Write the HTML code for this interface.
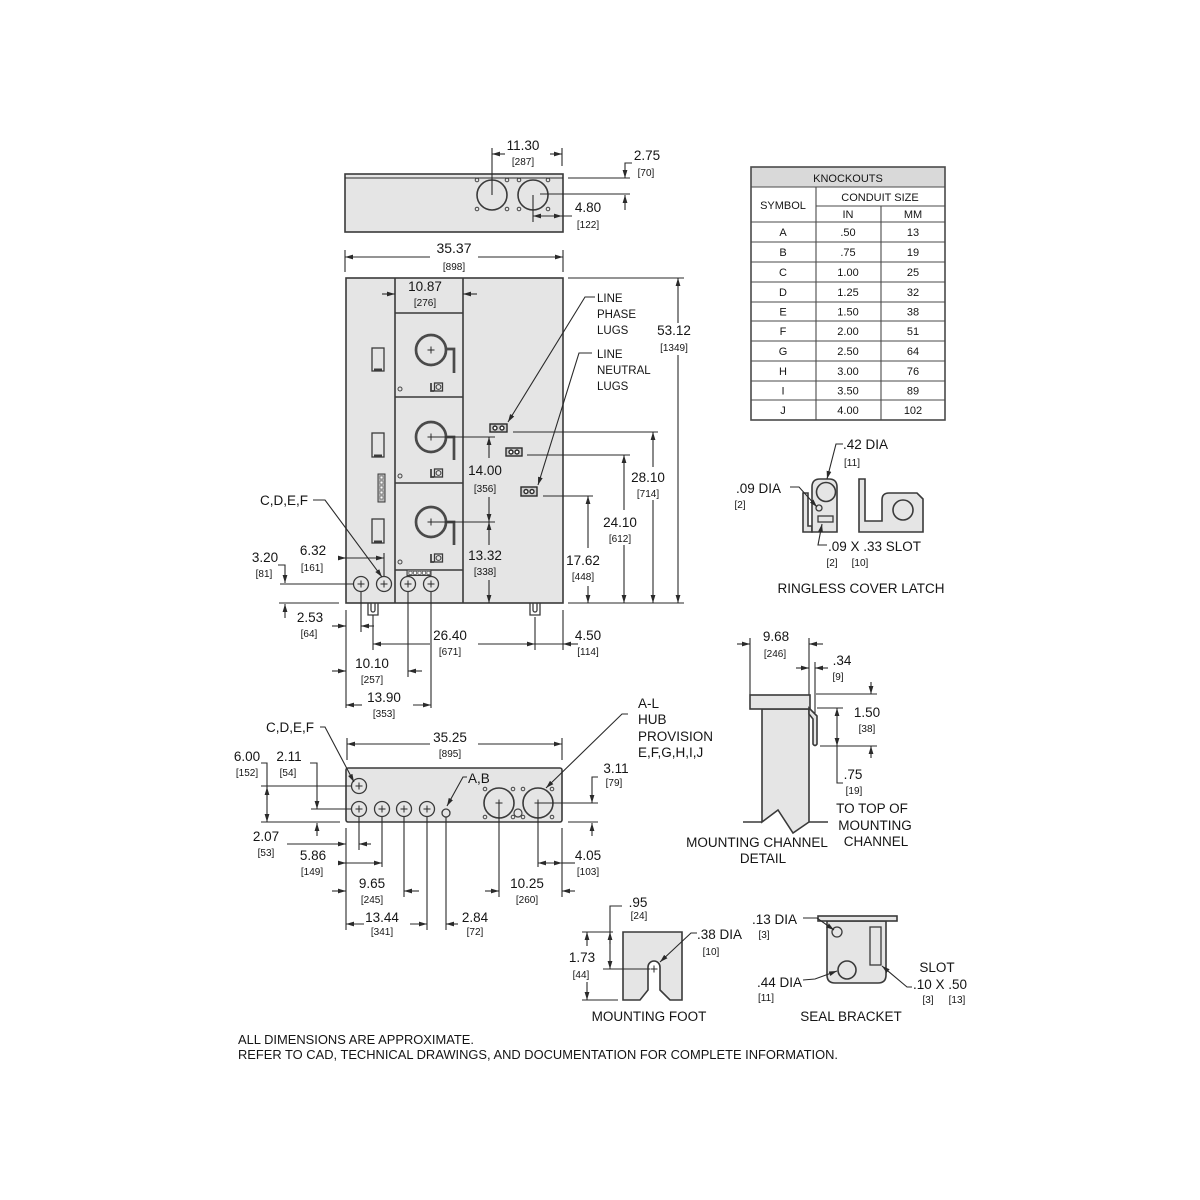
<!DOCTYPE html>
<html><head><meta charset="utf-8"><style>
html,body{margin:0;padding:0;background:#fff}
svg{display:block}
text{font-family:"Liberation Sans",Arial,sans-serif;fill:#151515}
.t{font-size:13.5px;text-anchor:middle}
.b{font-size:10px;text-anchor:middle}
.l{font-size:13.5px}
.s{font-size:11.5px}
.k{font-size:11px;text-anchor:middle}
.d{stroke:#2a2a2a;stroke-width:1.1;fill:none}
.o{stroke:#3a3a3a;stroke-width:1.6;fill:#e5e5e5}
.n{stroke:#3a3a3a;stroke-width:1.6;fill:none}
.g{stroke:#3a3a3a;stroke-width:1.3;fill:none}
</style></head><body>
<svg width="1200" height="1200" viewBox="0 0 1200 1200" xmlns="http://www.w3.org/2000/svg">
<defs>
<marker id="ar" markerUnits="userSpaceOnUse" markerWidth="8" markerHeight="6" refX="8" refY="3" orient="auto-start-reverse" viewBox="0 0 8 6"><path d="M0,0.6 L8,3 L0,5.4 z" fill="#2a2a2a"/></marker>
</defs>
<rect width="1200" height="1200" fill="#fff"/>

<!-- ===== TOP VIEW ===== -->
<rect class="o" x="345" y="174" width="218" height="58"/>
<line class="d" x1="345" y1="178" x2="563" y2="178"/>
<circle class="n" cx="492" cy="195" r="15"/>
<circle class="n" cx="533" cy="195" r="15"/>
<g fill="none" stroke="#444" stroke-width="1">
<circle cx="477" cy="180" r="1.8"/><circle cx="507" cy="180" r="1.8"/><circle cx="519" cy="180" r="1.8"/><circle cx="548" cy="180" r="1.8"/>
<circle cx="477" cy="209" r="1.8"/><circle cx="507" cy="209" r="1.8"/><circle cx="519" cy="209" r="1.8"/><circle cx="548" cy="209" r="1.8"/>
</g>
<path class="d" d="M492 148V195M562 148V166"/>
<line class="d" x1="505" y1="154" x2="492" y2="154" marker-end="url(#ar)"/>
<line class="d" x1="550" y1="154" x2="562" y2="154" marker-end="url(#ar)"/>
<text class="t" x="523" y="150">11.30</text>
<text class="b" x="523" y="165">[287]</text>
<path class="d" d="M568 178H630M540 194H630"/>
<polyline class="d" points="632,163 625,163 625,178" marker-end="url(#ar)"/>
<line class="d" x1="625" y1="210" x2="625" y2="195" marker-end="url(#ar)"/>
<text class="t" x="647" y="160">2.75</text>
<text class="b" x="646" y="176">[70]</text>
<path class="d" d="M533 195V222M562 216H572"/>
<line class="d" x1="533" y1="216" x2="562" y2="216" marker-start="url(#ar)" marker-end="url(#ar)"/>
<text class="t" x="588" y="212">4.80</text>
<text class="b" x="588" y="228">[122]</text>

<!-- 35.37 -->
<path class="d" d="M345 250V272M563 250V272"/>
<line class="d" x1="430" y1="257" x2="345" y2="257" marker-end="url(#ar)"/>
<line class="d" x1="478" y1="257" x2="563" y2="257" marker-end="url(#ar)"/>
<text class="t" x="454" y="253" style="font-size:14px">35.37</text>
<text class="b" x="454" y="270">[898]</text>

<!-- ===== FRONT VIEW ===== -->
<rect class="o" x="346" y="278" width="217" height="325"/>
<path class="n" d="M395 278V603M463 278V603M395 313H463M395 397H463M395 483H463M395 570H463"/>
<!-- 10.87 -->
<line class="d" x1="382" y1="294" x2="395" y2="294" marker-end="url(#ar)"/>
<line class="d" x1="477" y1="294" x2="463" y2="294" marker-end="url(#ar)"/>
<text class="t" x="425" y="291">10.87</text>
<text class="b" x="425" y="306">[276]</text>
<!-- modules -->
<g stroke="#4a4a4a" stroke-width="2.7" fill="none">
<circle cx="431" cy="350" r="15"/><circle cx="431" cy="437" r="15"/><circle cx="431" cy="522" r="15"/>
<path d="M445 349H454V373M445 437H454V460M445 522H454V545"/>
</g>
<g fill="none" stroke="#444" stroke-width="1">
<circle cx="400" cy="389" r="2"/><circle cx="400" cy="476" r="2"/><circle cx="400" cy="562" r="2"/>
</g>
<g fill="none" stroke="#3a3a3a">
<path d="M431 383v8h3M431 469v8h3M431 554v8h3" stroke-width="1.7"/>
<rect x="434.5" y="383" width="8" height="8" stroke-width="1.3"/><circle cx="438.5" cy="387" r="2.4"/>
<rect x="434.5" y="469" width="8" height="8" stroke-width="1.3"/><circle cx="438.5" cy="473" r="2.4"/>
<rect x="434.5" y="554" width="8" height="8" stroke-width="1.3"/><circle cx="438.5" cy="558" r="2.4"/>
</g>
<!-- left column rects -->
<g class="g">
<rect x="372" y="348" width="12" height="23"/><rect x="372" y="433" width="12" height="24"/><rect x="372" y="519" width="12" height="24"/>
</g>
<path d="M374 369.5h8M374 455.5h8M374 541.5h8" stroke="#3a3a3a" stroke-width="2"/>
<rect x="378" y="474" width="7" height="28" fill="#bbb" stroke="#3a3a3a" stroke-width="1"/>
<g fill="#fff" stroke="#444" stroke-width="0.6">
<rect x="380" y="476" width="3" height="3"/><rect x="380" y="481" width="3" height="3"/><rect x="380" y="486" width="3" height="3"/><rect x="380" y="491" width="3" height="3"/><rect x="380" y="496" width="3" height="3"/>
</g>
<rect x="407" y="570" width="24" height="5.5" fill="#bbb" stroke="#3a3a3a" stroke-width="1"/>
<g fill="#fff" stroke="#444" stroke-width="0.6">
<rect x="409" y="571.3" width="3" height="3"/><rect x="413.5" y="571.3" width="3" height="3"/><rect x="418" y="571.3" width="3" height="3"/><rect x="422.5" y="571.3" width="3" height="3"/><rect x="427" y="571.3" width="3" height="3"/>
</g>
<!-- knockouts front -->
<g class="g">
<circle cx="361" cy="584" r="7.5"/><circle cx="384" cy="584" r="7.5"/><circle cx="408" cy="584" r="7.5"/><circle cx="431" cy="584" r="7.5"/>
</g>
<!-- feet -->
<g class="g" stroke-width="1.1">
<path d="M368 603V615H378V603M371 603V610A2 2 0 0 0 375 610V603"/>
<path d="M530 603V615H540V603M533 603V610A2 2 0 0 0 537 610V603"/>
</g>
<!-- lugs -->
<g stroke="#2a2a2a" stroke-width="1.4">
<rect x="490" y="424" width="17" height="8" fill="#cfcfcf"/><circle cx="495" cy="428" r="2" fill="#fff"/><circle cx="502" cy="428" r="2" fill="#fff"/>
<rect x="506" y="448" width="16" height="8" fill="#cfcfcf"/><circle cx="511" cy="452" r="2" fill="#fff"/><circle cx="517" cy="452" r="2" fill="#fff"/>
<rect x="521" y="487" width="16" height="9" fill="#cfcfcf"/><circle cx="526" cy="491.5" r="2" fill="#fff"/><circle cx="532" cy="491.5" r="2" fill="#fff"/>
</g>
<polyline class="d" points="595,297 585,297 508,422" marker-end="url(#ar)"/>
<polyline class="d" points="592,353 579,353 538,485" marker-end="url(#ar)"/>
<text class="s" x="597" y="302">LINE</text>
<text class="s" x="597" y="318">PHASE</text>
<text class="s" x="597" y="334">LUGS</text>
<text class="s" x="597" y="358">LINE</text>
<text class="s" x="597" y="374">NEUTRAL</text>
<text class="s" x="597" y="390">LUGS</text>

<!-- right dims -->
<path class="d" d="M568 278H684M568 603H684M513 432H658M527 455H630M543 496H593"/>
<line class="d" x1="678" y1="323" x2="678" y2="278" marker-end="url(#ar)"/>
<line class="d" x1="678" y1="355" x2="678" y2="603" marker-end="url(#ar)"/>
<text class="t" x="674" y="335">53.12</text>
<text class="b" x="674" y="351">[1349]</text>
<line class="d" x1="653" y1="467" x2="653" y2="432" marker-end="url(#ar)"/>
<line class="d" x1="653" y1="500" x2="653" y2="603" marker-end="url(#ar)"/>
<text class="t" x="648" y="482">28.10</text>
<text class="b" x="648" y="497">[714]</text>
<line class="d" x1="624" y1="510" x2="624" y2="455" marker-end="url(#ar)"/>
<line class="d" x1="624" y1="545" x2="624" y2="603" marker-end="url(#ar)"/>
<text class="t" x="620" y="527">24.10</text>
<text class="b" x="620" y="542">[612]</text>
<line class="d" x1="588" y1="548" x2="588" y2="496" marker-end="url(#ar)"/>
<line class="d" x1="588" y1="586" x2="588" y2="603" marker-end="url(#ar)"/>
<text class="t" x="583" y="565">17.62</text>
<text class="b" x="583" y="580">[448]</text>

<!-- 14.00 / 13.32 -->
<path class="d" d="M431 437H495M431 522H495"/>
<line class="d" x1="489" y1="458" x2="489" y2="437" marker-end="url(#ar)"/>
<line class="d" x1="489" y1="497" x2="489" y2="522" marker-end="url(#ar)"/>
<line class="d" x1="489" y1="545" x2="489" y2="522" marker-end="url(#ar)"/>
<line class="d" x1="489" y1="580" x2="489" y2="603" marker-end="url(#ar)"/>
<text class="t" x="485" y="475">14.00</text>
<text class="b" x="485" y="492">[356]</text>
<text class="t" x="485" y="560">13.32</text>
<text class="b" x="485" y="575">[338]</text>

<!-- left dims front -->
<text class="t" x="284" y="505">C,D,E,F</text>
<polyline class="d" points="313,500 325,500 382,577" marker-end="url(#ar)"/>
<path class="d" d="M384 553V576M280 584H354M279 603H339"/>
<line class="d" x1="338" y1="558" x2="346" y2="558" marker-end="url(#ar)"/>
<line class="d" x1="346" y1="558" x2="384" y2="558" marker-end="url(#ar)"/>
<text class="t" x="313" y="555">6.32</text>
<text class="b" x="312" y="571">[161]</text>
<polyline class="d" points="278,565 285,565 285,583" marker-end="url(#ar)"/>
<line class="d" x1="285" y1="618" x2="285" y2="604" marker-end="url(#ar)"/>
<text class="t" x="265" y="562">3.20</text>
<text class="b" x="264" y="577">[81]</text>
<path class="d" d="M346 610V708M361 592V632M373 615V650M408 592V677M431 592V708M535 617V650M563 610V650M535 644H563"/>
<line class="d" x1="332" y1="626" x2="346" y2="626" marker-end="url(#ar)"/>
<line class="d" x1="374" y1="626" x2="361" y2="626" marker-end="url(#ar)"/>
<text class="t" x="310" y="622">2.53</text>
<text class="b" x="309" y="637">[64]</text>
<line class="d" x1="430" y1="644" x2="373" y2="644" marker-end="url(#ar)"/>
<line class="d" x1="478" y1="644" x2="535" y2="644" marker-end="url(#ar)"/>
<text class="t" x="450" y="640">26.40</text>
<text class="b" x="450" y="655">[671]</text>
<line class="d" x1="578" y1="644" x2="563" y2="644" marker-end="url(#ar)"/>
<text class="t" x="588" y="640">4.50</text>
<text class="b" x="588" y="655">[114]</text>
<line class="d" x1="332" y1="671" x2="346" y2="671" marker-end="url(#ar)"/>
<line class="d" x1="422" y1="671" x2="408" y2="671" marker-end="url(#ar)"/>
<text class="t" x="372" y="668">10.10</text>
<text class="b" x="372" y="683">[257]</text>
<line class="d" x1="362" y1="705" x2="346" y2="705" marker-end="url(#ar)"/>
<line class="d" x1="413" y1="705" x2="431" y2="705" marker-end="url(#ar)"/>
<text class="t" x="384" y="702">13.90</text>
<text class="b" x="384" y="717">[353]</text>

<!-- ===== BOTTOM VIEW ===== -->
<path class="d" d="M347 738V760M562 738V760"/>
<line class="d" x1="430" y1="744" x2="347" y2="744" marker-end="url(#ar)"/>
<line class="d" x1="478" y1="744" x2="562" y2="744" marker-end="url(#ar)"/>
<text class="t" x="450" y="742">35.25</text>
<text class="b" x="450" y="757">[895]</text>
<rect class="o" x="346" y="768" width="216" height="54" rx="2"/>
<g class="g">
<circle cx="359" cy="786" r="7.5"/><circle cx="359" cy="809" r="7.5"/><circle cx="382" cy="809" r="7.5"/><circle cx="404" cy="809" r="7.5"/><circle cx="427" cy="809" r="7.5"/>
<circle cx="446" cy="813" r="4"/>
</g>
<circle class="n" cx="499" cy="803" r="15"/>
<circle class="n" cx="538" cy="803" r="15"/>
<g fill="none" stroke="#444" stroke-width="1">
<circle cx="485" cy="789" r="1.8"/><circle cx="513" cy="789" r="1.8"/><circle cx="523" cy="789" r="1.8"/><circle cx="552" cy="789" r="1.8"/>
<circle cx="485" cy="817" r="1.8"/><circle cx="513" cy="817" r="1.8"/><circle cx="523" cy="817" r="1.8"/><circle cx="552" cy="817" r="1.8"/>
<circle cx="518" cy="813" r="4" stroke-width="1.2"/>
</g>
<text class="t" x="290" y="732">C,D,E,F</text>
<polyline class="d" points="320,727 325,727 354,782" marker-end="url(#ar)"/>
<text class="l" x="468" y="783">A,B</text>
<polyline class="d" points="467,777 463,777 447,806" marker-end="url(#ar)"/>
<polyline class="d" points="628,714 622,714 546,788" marker-end="url(#ar)"/>
<text class="l" x="638" y="708">A-L</text>
<text class="l" x="638" y="724">HUB</text>
<text class="l" x="638" y="741">PROVISION</text>
<text class="l" x="638" y="757">E,F,G,H,I,J</text>

<path class="d" d="M261 786H351M261 822H340M311 809H351M346 828V930M359 817V850M382 817V867M404 817V897M427 817V930M446 817V930M499 803V897M538 803V867M562 828V897M538 803H598M568 822H598"/>
<polyline class="d" points="261,763 267,763 267,800"/>
<line class="d" x1="267" y1="800" x2="267" y2="787" marker-end="url(#ar)"/>
<line class="d" x1="267" y1="800" x2="267" y2="822" marker-end="url(#ar)"/>
<text class="t" x="247" y="761">6.00</text>
<text class="b" x="247" y="776">[152]</text>
<polyline class="d" points="310,763 317,763 317,809" marker-end="url(#ar)"/>
<line class="d" x1="317" y1="836" x2="317" y2="823" marker-end="url(#ar)"/>
<text class="t" x="289" y="761">2.11</text>
<text class="b" x="288" y="776">[54]</text>
<line class="d" x1="287" y1="844" x2="346" y2="844" marker-end="url(#ar)"/>
<line class="d" x1="371" y1="844" x2="359" y2="844" marker-end="url(#ar)"/>
<text class="t" x="266" y="841">2.07</text>
<text class="b" x="266" y="856">[53]</text>
<line class="d" x1="338" y1="863" x2="346" y2="863" marker-end="url(#ar)"/>
<line class="d" x1="346" y1="863" x2="382" y2="863" marker-end="url(#ar)"/>
<text class="t" x="313" y="860">5.86</text>
<text class="b" x="312" y="875">[149]</text>
<line class="d" x1="332" y1="891" x2="346" y2="891" marker-end="url(#ar)"/>
<line class="d" x1="419" y1="891" x2="404" y2="891" marker-end="url(#ar)"/>
<text class="t" x="372" y="888">9.65</text>
<text class="b" x="372" y="903">[245]</text>
<line class="d" x1="364" y1="924" x2="346" y2="924" marker-end="url(#ar)"/>
<line class="d" x1="410" y1="924" x2="427" y2="924" marker-end="url(#ar)"/>
<text class="t" x="382" y="922">13.44</text>
<text class="b" x="382" y="935">[341]</text>
<line class="d" x1="458" y1="924" x2="446" y2="924" marker-end="url(#ar)"/>
<text class="t" x="475" y="922">2.84</text>
<text class="b" x="475" y="935">[72]</text>
<line class="d" x1="485" y1="891" x2="499" y2="891" marker-end="url(#ar)"/>
<line class="d" x1="575" y1="891" x2="562" y2="891" marker-end="url(#ar)"/>
<text class="t" x="527" y="888">10.25</text>
<text class="b" x="527" y="903">[260]</text>
<line class="d" x1="538" y1="863" x2="562" y2="863" marker-start="url(#ar)" marker-end="url(#ar)"/>
<line class="d" x1="562" y1="863" x2="575" y2="863"/>
<text class="t" x="588" y="860">4.05</text>
<text class="b" x="588" y="875">[103]</text>
<polyline class="d" points="598,777 592,777 592,803" marker-end="url(#ar)"/>
<line class="d" x1="592" y1="836" x2="592" y2="823" marker-end="url(#ar)"/>
<text class="t" x="616" y="773">3.11</text>
<text class="b" x="614" y="786">[79]</text>

<!-- plus signs -->
<path stroke="#2a2a2a" stroke-width="1" fill="none" d="M427.5 350h7M431 346.5v7M427.5 437h7M431 433.5v7M427.5 522h7M431 518.5v7M357.5 584h7M361 580.5v7M380.5 584h7M384 580.5v7M404.5 584h7M408 580.5v7M427.5 584h7M431 580.5v7M355.5 786h7M359 782.5v7M355.5 809h7M359 805.5v7M378.5 809h7M382 805.5v7M400.5 809h7M404 805.5v7M423.5 809h7M427 805.5v7M495.5 803h7M499 799.5v7M534.5 803h7M538 799.5v7M650.5 969h7M654 965.5v7"/>

<!-- ===== KNOCKOUTS TABLE ===== -->
<rect x="751" y="167" width="194" height="20" fill="#d9d9d9"/>
<rect x="751" y="167" width="194" height="253" fill="none" stroke="#4a4a4a" stroke-width="1.6"/>
<path stroke="#4a4a4a" stroke-width="1.1" fill="none" d="M751 187H945M816 206H945M751 222H945M751 242H945M751 262H945M751 282H945M751 302H945M751 321H945M751 341H945M751 361H945M751 381H945M751 400H945M816 187V420M881 206V420"/>
<text class="k" x="848" y="182">KNOCKOUTS</text>
<text class="k" x="880" y="201">CONDUIT SIZE</text>
<text class="k" x="783" y="209">SYMBOL</text>
<text class="k" x="848" y="218">IN</text>
<text class="k" x="913" y="218">MM</text>
<g>
<text class="k" x="783" y="236">A</text><text class="k" x="848" y="236">.50</text><text class="k" x="913" y="236">13</text>
<text class="k" x="783" y="256">B</text><text class="k" x="848" y="256">.75</text><text class="k" x="913" y="256">19</text>
<text class="k" x="783" y="276">C</text><text class="k" x="848" y="276">1.00</text><text class="k" x="913" y="276">25</text>
<text class="k" x="783" y="296">D</text><text class="k" x="848" y="296">1.25</text><text class="k" x="913" y="296">32</text>
<text class="k" x="783" y="315.5">E</text><text class="k" x="848" y="315.5">1.50</text><text class="k" x="913" y="315.5">38</text>
<text class="k" x="783" y="335">F</text><text class="k" x="848" y="335">2.00</text><text class="k" x="913" y="335">51</text>
<text class="k" x="783" y="355">G</text><text class="k" x="848" y="355">2.50</text><text class="k" x="913" y="355">64</text>
<text class="k" x="783" y="375">H</text><text class="k" x="848" y="375">3.00</text><text class="k" x="913" y="375">76</text>
<text class="k" x="783" y="394.5">I</text><text class="k" x="848" y="394.5">3.50</text><text class="k" x="913" y="394.5">89</text>
<text class="k" x="783" y="414">J</text><text class="k" x="848" y="414">4.00</text><text class="k" x="913" y="414">102</text>
</g>

<!-- ===== RINGLESS COVER LATCH ===== -->
<polygon class="o" stroke-width="1.3" points="803,493 808,493 808,526 812,526 812,532 803,532"/>
<path class="o" stroke-width="1.3" d="M812 532V487Q812 479 820 479H829Q837 479 837 487V532Z"/>
<circle class="n" cx="826" cy="492" r="9.5" fill="#fff"/>
<circle class="g" cx="819" cy="508" r="3"/>
<rect class="g" x="818" y="516" width="15" height="6"/>
<path class="o" stroke-width="1.3" d="M859 479H865V521H882V500Q882 493 889 493H917L923 499V532H859Z"/>
<circle class="n" cx="903" cy="510" r="10" fill="#fff"/>
<polyline class="d" points="843,444 836,444 827,479" marker-end="url(#ar)"/>
<text class="l" x="843" y="449">.42 DIA</text>
<text class="b" x="852" y="466">[11]</text>
<polyline class="d" points="790,487 799,487 817,507" marker-end="url(#ar)"/>
<text class="l" x="736" y="493">.09 DIA</text>
<text class="b" x="740" y="508">[2]</text>
<polyline class="d" points="827,545 818,545 822,524" marker-end="url(#ar)"/>
<text class="l" x="828" y="551">.09 X .33 SLOT</text>
<text class="b" x="832" y="566">[2]</text>
<text class="b" x="860" y="566">[10]</text>
<text class="t" x="861" y="593">RINGLESS COVER LATCH</text>

<!-- ===== MOUNTING CHANNEL DETAIL ===== -->
<path class="d" d="M750 638V695M809 638V695M815 662V713"/>
<line class="d" x1="737" y1="644" x2="750" y2="644" marker-end="url(#ar)"/>
<line class="d" x1="823" y1="644" x2="809" y2="644" marker-end="url(#ar)"/>
<text class="t" x="776" y="641">9.68</text>
<text class="b" x="775" y="657">[246]</text>
<line class="d" x1="796" y1="668" x2="809" y2="668" marker-end="url(#ar)"/>
<line class="d" x1="828" y1="668" x2="815" y2="668" marker-end="url(#ar)"/>
<text class="t" x="842" y="665">.34</text>
<text class="b" x="838" y="680">[9]</text>
<path class="o" stroke-width="1.4" d="M762 709H809V822L793 833L778 810L762 822Z"/>
<rect class="o" stroke-width="1.4" x="750" y="695" width="60" height="14"/>
<path class="o" stroke-width="1.1" d="M809 708L817 716V744Q815 747 813 744V719L809 714Z"/>
<path class="n" d="M743 822H762M809 822H828"/>
<path class="d" d="M816 694H877M817 708H843M820 746H877"/>
<line class="d" x1="871" y1="682" x2="871" y2="694" marker-end="url(#ar)"/>
<line class="d" x1="871" y1="758" x2="871" y2="746" marker-end="url(#ar)"/>
<text class="t" x="867" y="717">1.50</text>
<text class="b" x="867" y="732">[38]</text>
<line class="d" x1="837" y1="727" x2="837" y2="708" marker-end="url(#ar)"/>
<line class="d" x1="837" y1="727" x2="837" y2="746" marker-end="url(#ar)"/>
<polyline class="d" points="837,746 837,783 843,783"/>
<text class="t" x="853" y="779">.75</text>
<text class="b" x="854" y="794">[19]</text>
<text class="t" x="872" y="813">TO TOP OF</text>
<text class="t" x="875" y="830">MOUNTING</text>
<text class="t" x="876" y="846">CHANNEL</text>
<text class="t" x="757" y="847">MOUNTING CHANNEL</text>
<text class="t" x="763" y="863">DETAIL</text>

<!-- ===== MOUNTING FOOT ===== -->
<path class="o" stroke-width="1.4" d="M623 932H682V1000H670L660 990V967A6 6 0 0 0 648 967V990L640 1000H623Z"/>
<path class="d" d="M582 932H613M603 969H650M582 1000H618"/>
<polyline class="d" points="622,906 610,906 610,955"/>
<line class="d" x1="610" y1="944" x2="610" y2="932" marker-end="url(#ar)"/>
<line class="d" x1="610" y1="955" x2="610" y2="969" marker-end="url(#ar)"/>
<text class="t" x="638" y="907">.95</text>
<text class="b" x="639" y="919">[24]</text>
<line class="d" x1="587" y1="946" x2="587" y2="932" marker-end="url(#ar)"/>
<line class="d" x1="587" y1="982" x2="587" y2="1000" marker-end="url(#ar)"/>
<text class="t" x="582" y="962">1.73</text>
<text class="b" x="581" y="978">[44]</text>
<polyline class="d" points="697,933 691,933 660,962" marker-end="url(#ar)"/>
<text class="l" x="697" y="939">.38 DIA</text>
<text class="b" x="711" y="955">[10]</text>
<text class="t" x="649" y="1021">MOUNTING FOOT</text>

<!-- ===== SEAL BRACKET ===== -->
<path class="o" stroke-width="1.4" d="M827 921H886V975Q886 983 878 983H835Q827 983 827 975Z"/>
<rect class="o" stroke-width="1.4" x="818" y="916" width="79" height="5"/>
<circle class="g" cx="837" cy="932" r="5" fill="#fff"/>
<circle class="n" cx="847" cy="970" r="9" fill="#fff"/>
<rect class="g" x="870" y="927" width="11" height="38" fill="#fff"/>
<polyline class="d" points="803,918 817,918 834,930" marker-end="url(#ar)"/>
<text class="l" x="752" y="924">.13 DIA</text>
<text class="b" x="764" y="938">[3]</text>
<polyline class="d" points="803,980 815,979 837,971" marker-end="url(#ar)"/>
<text class="l" x="757" y="987">.44 DIA</text>
<text class="b" x="766" y="1001">[11]</text>
<polyline class="d" points="912,987 907,987 882,966" marker-end="url(#ar)"/>
<text class="t" x="937" y="972">SLOT</text>
<text class="l" x="913" y="989">.10 X .50</text>
<text class="b" x="928" y="1003">[3]</text>
<text class="b" x="957" y="1003">[13]</text>
<text class="t" x="851" y="1021">SEAL BRACKET</text>

<!-- footer -->
<text x="238" y="1044" style="font-size:12.5px" textLength="236" lengthAdjust="spacingAndGlyphs">ALL DIMENSIONS ARE APPROXIMATE.</text>
<text x="238" y="1059" style="font-size:12.5px" textLength="600" lengthAdjust="spacingAndGlyphs">REFER TO CAD, TECHNICAL DRAWINGS, AND DOCUMENTATION FOR COMPLETE INFORMATION.</text>
</svg>
</body></html>
